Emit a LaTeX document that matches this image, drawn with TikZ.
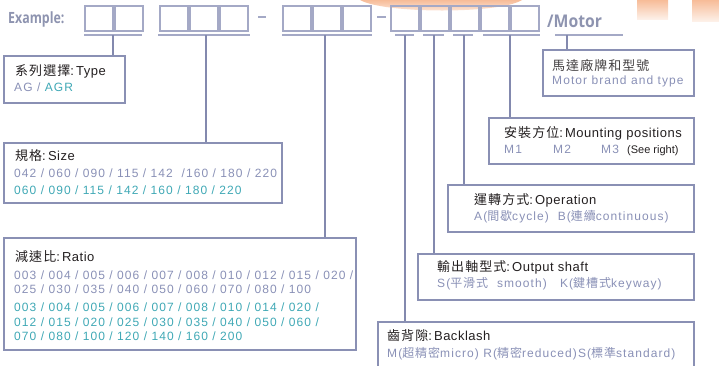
\documentclass[tikz,border=0pt]{standalone}
\usepackage{fontspec}
\setmainfont{Liberation Sans}
\newfontfamily\labf[LetterSpace=4]{Liberation Sans}
\newfontfamily\valf[LetterSpace=9]{Liberation Sans}
\newfontfamily\smallf{Liberation Sans}
\newfontfamily\cjkl[LetterSpace=8]{Noto Sans CJK TC}
\newfontfamily\cjkv[LetterSpace=8]{Noto Sans CJK TC}
\newfontfamily\exf{Open Sans}
\newcommand{\Ck}[1]{{\cjkl #1}}
\newcommand{\Cv}[1]{{\cjkv #1}}
\newcommand{\Lb}{\labf\fontsize{13}{15}\selectfont}
\newcommand{\Vl}{\valf\fontsize{12}{14}\selectfont}
\definecolor{bordc}{HTML}{8A90B4}
\definecolor{topc}{HTML}{A4A9C6}
\definecolor{linec}{HTML}{8389AE}
\definecolor{labc}{HTML}{231F20}
\definecolor{valc}{HTML}{8990B6}
\definecolor{tealc}{HTML}{3FA8B5}
\definecolor{exc}{HTML}{8E94B0}
\definecolor{wmtop}{HTML}{F7BC98}
\definecolor{wmbot}{HTML}{FDF0E8}
\tikzset{
  box/.style={draw=bordc, line width=1.5pt, inner sep=0pt, anchor=north west},
  topbox/.style={draw=topc, line width=1.5pt, inner sep=0pt, anchor=north west,
                 minimum width=28pt, minimum height=25pt},
  uline/.style={draw=topc, line width=2pt},
  conn/.style={draw=linec, line width=2pt},
  lbl/.style={anchor=base west, inner sep=0pt, text=labc, font=\Lb},
  val/.style={anchor=base west, inner sep=0pt, text=valc, font=\Vl},
  tval/.style={anchor=base west, inner sep=0pt, text=tealc, font=\Vl},
  wm/.style={top color=wmtop, bottom color=wmbot, draw=none}
}
\begin{document}
\begin{tikzpicture}[x=1pt, y=-1pt]
\useasboundingbox (0,0) rectangle (719,365);
\clip (0,0) rectangle (719,365);
% watermark fragments
\shade[wm] (360,0) .. controls (385,14) and (500,14) .. (522,0) -- cycle;
\shade[wm] (637,0) rectangle (668,19);
\shade[wm] (692,0) rectangle (719,21);

% heading
\node[anchor=base west, inner sep=0pt, text=exc, font=\exf\bfseries\fontsize{15.5}{17}\selectfont] (ex) at (8,23) {\scalebox{0.8}[1]{Example:}};
\node[anchor=base west, inner sep=0pt, text=exc, font=\exf\bfseries\fontsize{17.5}{20}\selectfont] (mot) at (547,27) {\scalebox{0.9}[1]{/Motor}};

% code boxes
\node[topbox] (a1) at (84,5) {};
\node[topbox] (a2) at (114,5) {};
\node[topbox] (b1) at (159,5) {};
\node[topbox] (b2) at (189,5) {};
\node[topbox] (b3) at (219,5) {};
\node[topbox] (c1) at (282,5) {};
\node[topbox] (c2) at (312,5) {};
\node[topbox] (c3) at (342,5) {};
\node[topbox] (d1) at (390,5) {};
\node[topbox] (d2) at (420,5) {};
\node[topbox] (d3) at (450,5) {};
\node[topbox] (d4) at (480,5) {};
\node[topbox] (d5) at (510,5) {};
\coordinate (h1a) at (258,17); \coordinate (h1b) at (266,17);
\coordinate (h2a) at (377,17); \coordinate (h2b) at (386,17);
\draw[uline] (h1a) -- (h1b);
\draw[uline] (h2a) -- (h2b);

% underlines
\draw[uline] (84,35) -- (142,35);
\draw[uline] (158,35) -- (250,35);
\draw[uline] (282,35) -- (372,35);
\draw[uline] (395,35) -- (414,35);
\draw[uline] (423,35) -- (444,35);
\draw[uline] (453,35) -- (473,35);
\draw[uline] (483,35) -- (540,35);
\draw[uline] (555,35) -- (623,35);
\coordinate (u1) at (113,35);
\coordinate (u2) at (206,35);
\coordinate (u3) at (325,35);
\coordinate (u4) at (405,35);
\coordinate (u5) at (434,35);
\coordinate (u6) at (464,35);
\coordinate (u7) at (510,35);
\coordinate (u8) at (567,35);

% description boxes
\node[box, minimum width=121pt, minimum height=47pt] (type) at (3,55) {};
\node[box, minimum width=278pt, minimum height=60pt] (size) at (3,142) {};
\node[box, minimum width=352pt, minimum height=112pt] (ratio) at (3,237) {};
\node[box, minimum width=151pt, minimum height=46pt] (motor) at (542,49) {};
\node[box, minimum width=205pt, minimum height=46pt] (mount) at (488,117) {};
\node[box, minimum width=246pt, minimum height=47pt] (oper) at (447,184) {};
\node[box, minimum width=276pt, minimum height=46pt] (shaft) at (417,253) {};
\node[box, minimum width=316pt, minimum height=60pt] (back) at (377,321) {};

% connectors
\draw[conn] (u1) -- (u1 |- type.north);
\draw[conn] (u2) -- (u2 |- size.north);
\draw[conn] (u3) -- (u3 |- ratio.north);
\draw[conn] (u4) -- (u4 |- back.north);
\draw[conn] (u5) -- (u5 |- shaft.north);
\draw[conn] (u6) -- (u6 |- oper.north);
\draw[conn] (u7) -- (u7 |- mount.north);
\draw[conn] (u8) -- (u8 |- motor.north);

% texts: type
\node[lbl] (typel) at (15,75) {\Ck{系列選擇}:\,Type};
\node[val] (typev) at (14,91) {AG / \textcolor{tealc}{AGR}};
% size
\node[lbl] (sizel) at (15,160) {\Ck{規格}:\,Size};
\node[val] (sizev1) at (14,177) {042 / 060 / 090 / 115 / 142 \ /160 / 180 / 220};
\node[tval] (sizev2) at (14,194) {060 / 090 / 115 / 142 / 160 / 180 / 220};
% ratio
\node[lbl] (ratiol) at (15,261) {\Ck{減速比}:\,Ratio};
\node[val] (rv1) at (14,279) {003 / 004 / 005 / 006 / 007 / 008 / 010 / 012 / 015 / 020 /};
\node[val] (rv2) at (14,293) {025 / 030 / 035 / 040 / 050 / 060 / 070 / 080 / 100};
\node[tval] (rv3) at (14,311) {003 / 004 / 005 / 006 / 007 / 008 / 010 / 014 / 020 /};
\node[tval] (rv4) at (14,326) {012 / 015 / 020 / 025 / 030 / 035 / 040 / 050 / 060 /};
\node[tval] (rv5) at (14,340) {070 / 080 / 100 / 120 / 140 / 160 / 200};
% motor
\node[lbl, text=labc!85] (motl) at (552,70) {\Ck{馬達廠牌和型號}};
\node[val] (motv) at (552,84) {Motor brand and type};
% mounting
\node[lbl] (mntl) at (504,137) {\Ck{安裝方位}:\,Mounting positions};
\node[val] (m1) at (504,153) {M1};
\node[val] (m2) at (553,153) {M2};
\node[val] (m3) at (601,153) {M3};
\node[anchor=base west, inner sep=0pt, text=labc, font=\smallf\fontsize{11}{12}\selectfont] (seer) at (627,153) {(See right)};
% operation
\node[lbl] (opl) at (474,204) {\Ck{運轉方式}:\,Operation};
\node[val] (opv) at (474,220) {A(\Cv{間歇}cycle) \ B(\Cv{連續}continuous)};
% shaft
\node[lbl] (shl) at (437,271) {\Ck{輸出軸型式}:\,Output shaft};
\node[val] (shv) at (437,287) {S(\Cv{平滑式}\ \ smooth) \ \ K(\Cv{鍵槽式}keyway)};
% backlash
\node[lbl] (bkl) at (387,340) {\Ck{齒背隙}:\,Backlash};
\node[val] (bkv) at (387,357) {M(\Cv{超精密}micro) R(\Cv{精密}reduced)S(\Cv{標準}standard)};
\end{tikzpicture}
\end{document}
